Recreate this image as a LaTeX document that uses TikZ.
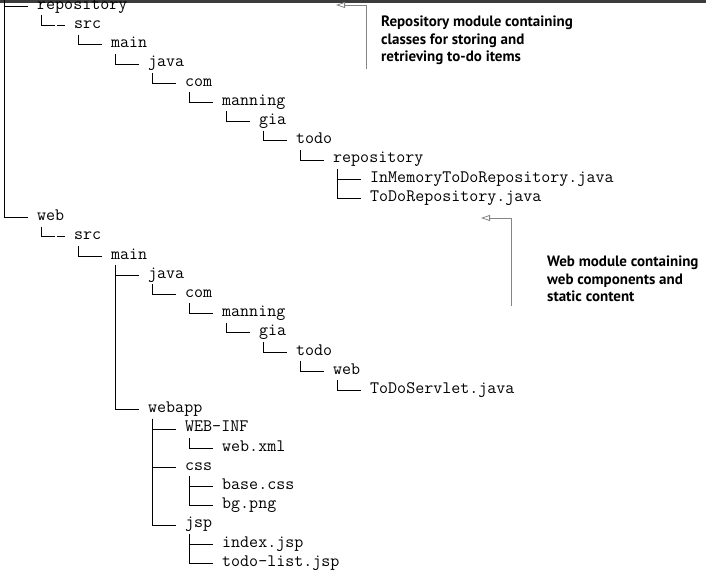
\documentclass[tikz,border=0pt]{standalone}
\usepackage{fontspec}
\newfontfamily\annotfont{PT Sans}
\usetikzlibrary{arrows.meta}
\definecolor{barcol}{HTML}{3C3C3C}
\definecolor{arrowcol}{HTML}{858585}
\begin{document}
\begin{tikzpicture}[x=1pt,y=-1pt,
  tt/.style={anchor=base west,inner sep=0pt,font=\ttfamily\fontsize{17.5}{20}\selectfont},
  branch/.style={draw=black,line width=0.8pt},
  dashbranch/.style={branch,dash pattern=on 24.2pt off 2pt on 30pt},
  annot/.style={anchor=base west,inner sep=0pt,align=left,
    font=\annotfont\bfseries\fontsize{15}{17.5}\selectfont},
  callout/.style={draw=arrowcol,line width=0.8pt,-{Triangle[open,length=9pt,width=6pt]}}]
\useasboundingbox (0,0) rectangle (706,577);
\fill[barcol] (0,0) rectangle (706,3);
% tree nodes
\foreach \i/\l/\t in {0/0/repository,1/1/src,2/2/main,3/3/java,4/4/com,5/5/manning,
  6/6/gia,7/7/todo,8/8/repository,9/9/InMemoryToDoRepository.java,10/9/ToDoRepository.java,
  11/0/web,12/1/src,13/2/main,14/3/java,15/4/com,16/5/manning,17/6/gia,18/7/todo,
  19/8/web,20/9/ToDoServlet.java,21/3/webapp,22/4/WEB-INF,23/5/web.xml,24/4/css,
  25/5/base.css,26/5/bg.png,27/4/jsp,28/5/index.jsp,29/5/todo-list.jsp}
  \node[tt] (r\i) at ({37*(\l+1)},{6.3+19.21*\i+3}) {\t};
% root branches
\coordinate (top) at (4,0);
\coordinate (j0) at ([xshift=-9pt,yshift=3pt]r0.base west);
\coordinate (j11) at ([xshift=-9pt,yshift=3pt]r11.base west);
\draw[branch] (top) |- (j11);
\draw[branch] (top |- j0) -- (j0);
% dashed-looking src branches
\foreach \p/\c in {0/1,11/12}
  \draw[dashbranch] ([xshift=4pt,yshift=-6pt]r\p.base west) |- ([xshift=-9pt,yshift=3pt]r\c.base west);
% other branches
\foreach \p/\c in {1/2,2/3,3/4,4/5,5/6,6/7,7/8,8/9,8/10,12/13,13/14,14/15,15/16,16/17,
  17/18,18/19,19/20,13/21,21/22,22/23,21/24,24/25,24/26,21/27,27/28,27/29}
  \draw[branch] ([xshift=4pt,yshift=-6pt]r\p.base west) |- ([xshift=-9pt,yshift=3pt]r\c.base west);
% annotations (base = baseline of last line)
\node[annot] (n1) at (381,61.7) {Repository module containing\\classes for storing and\\retrieving to-do items};
\node[annot] (n2) at (547,301.7) {Web module containing\\web components and\\static content};
\coordinate (a1s) at (366,69);
\coordinate (a1t) at (336,5);
\draw[callout] (a1s) |- (a1t);
\coordinate (a2s) at (511,306);
\coordinate (a2t) at (481,218);
\draw[callout] (a2s) |- (a2t);
\end{tikzpicture}
\end{document}
